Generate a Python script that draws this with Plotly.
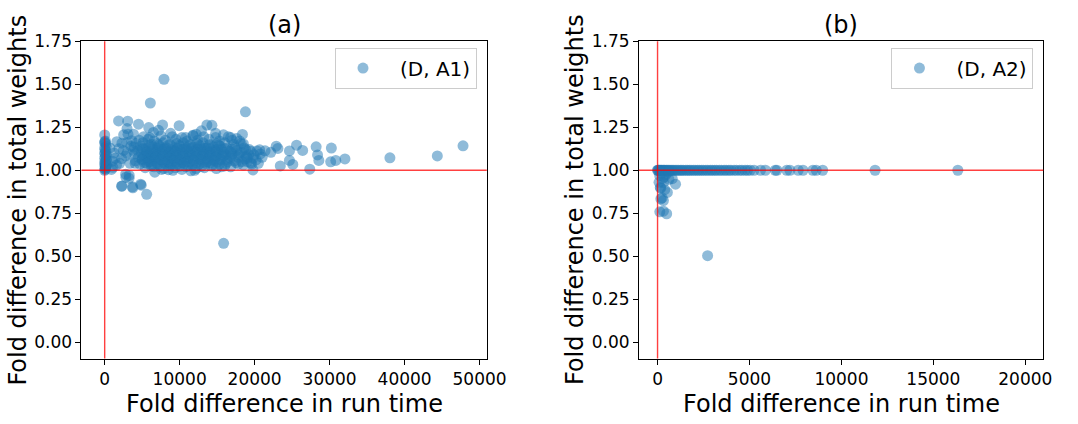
import plotly.graph_objects as go

# ---------------- Panel (a): (D, A1) ----------------
a_zero_col = [(0, 1.00), (50, 1.01), (100, 1.02), (0, 1.03), (150, 1.04), (50, 1.05), (200, 1.06),
              (0, 1.07), (100, 1.08), (250, 1.09), (0, 1.10), (150, 1.11), (50, 1.12), (200, 1.14),
              (0, 1.16), (100, 1.17), (0, 1.205), (80, 1.005), (120, 1.015), (30, 1.045), (180, 1.025),
              (60, 1.095), (300, 1.03), (250, 1.06), (20, 1.165), (150, 1.155), (0, 1.13), (700, 1.13),
              (1090, 1.017)]
a_left = [(1850, 1.287), (3070, 1.285), (4510, 1.268), (2980, 1.242), (3110, 1.210), (2530, 1.206),
          (1620, 1.166), (2300, 1.157), (2980, 1.161), (3840, 1.210), (1040, 1.053), (1260, 1.100),
          (900, 1.005), (2260, 1.068), (2800, 1.083), (3380, 1.040), (1900, 1.125), (3840, 1.115),
          (2500, 1.115), (1580, 1.030), (2800, 0.977), (3250, 0.953), (2260, 0.907), (3750, 0.898),
          (4870, 0.913), (5600, 0.860), (6680, 0.989), (4060, 1.040), (3600, 1.172), (2830, 0.960),
          (3270, 0.970), (4790, 0.919), (3700, 0.904), (2300, 0.908), (3500, 1.140), (2000, 1.040),
          (3000, 1.100), (1400, 1.070)]
a_cluster_hi = [(5200, 1.195), (6000, 1.19), (7500, 1.20), (9000, 1.195), (10300, 1.19), (11800, 1.20),
                (13200, 1.195), (14800, 1.19), (16500, 1.195),
                (4600, 1.175), (5800, 1.18), (6600, 1.17), (8100, 1.175), (9500, 1.18), (11000, 1.17),
                (12400, 1.175), (13900, 1.18), (15300, 1.17), (17000, 1.175), (18000, 1.17),
                (4200, 1.155), (5100, 1.16), (6200, 1.15), (7000, 1.155), (7800, 1.16), (8700, 1.15),
                (9600, 1.155), (10500, 1.16), (11400, 1.15), (12300, 1.155), (13100, 1.16), (14000, 1.15),
                (15000, 1.155), (16000, 1.16), (17200, 1.15), (18200, 1.155)]
a_cluster_mid = [(3900, 1.135), (4800, 1.14), (5500, 1.13), (6400, 1.135), (7300, 1.14), (8200, 1.13),
                 (9100, 1.135), (10000, 1.14), (10900, 1.13), (11800, 1.135), (12700, 1.14), (13600, 1.13),
                 (14500, 1.135), (15400, 1.14), (16300, 1.13), (17400, 1.135), (18600, 1.13),
                 (4400, 1.115), (5300, 1.12), (6100, 1.11), (6900, 1.115), (7600, 1.12), (8500, 1.11),
                 (9300, 1.115), (10200, 1.12), (11100, 1.11), (12000, 1.115), (12900, 1.12), (13800, 1.11),
                 (14700, 1.115), (15600, 1.12), (16600, 1.11), (17600, 1.115), (18800, 1.12), (19500, 1.11),
                 (4000, 1.095), (4900, 1.10), (5700, 1.09), (6500, 1.095), (7400, 1.10), (8300, 1.09),
                 (9000, 1.095), (9800, 1.10), (10700, 1.09), (11500, 1.095), (12500, 1.10), (13400, 1.09),
                 (14200, 1.095), (15200, 1.10), (16100, 1.09), (17000, 1.095), (18000, 1.10), (19200, 1.09)]
a_cluster_core = [(5100, 1.125), (6300, 1.122), (7100, 1.128), (8000, 1.124), (8900, 1.121), (9700, 1.127),
                  (10600, 1.123), (11600, 1.126), (12400, 1.122), (13300, 1.128), (14100, 1.124),
                  (15000, 1.121), (16000, 1.125), (17000, 1.122), (18200, 1.105),
                  (5400, 1.085), (6200, 1.082), (7000, 1.088), (7900, 1.084), (8800, 1.081), (9600, 1.087),
                  (10500, 1.083), (11400, 1.086), (12300, 1.082), (13200, 1.088), (14000, 1.084),
                  (14900, 1.081), (15900, 1.085), (16900, 1.082), (17900, 1.088), (18700, 1.065),
                  (5000, 1.065), (5800, 1.062), (6600, 1.068), (7300, 1.064), (8200, 1.061), (9000, 1.067),
                  (9900, 1.063), (10800, 1.066), (11800, 1.062), (12700, 1.068), (13600, 1.064),
                  (14500, 1.061), (15400, 1.065), (16300, 1.062), (17500, 1.045), (18300, 1.05),
                  (5300, 1.045), (6100, 1.048), (6900, 1.044), (7800, 1.047), (8600, 1.043), (9500, 1.046),
                  (10300, 1.044), (11300, 1.047), (12200, 1.043), (13100, 1.046), (14100, 1.044),
                  (15000, 1.047), (16000, 1.025)]
a_cluster_extra = [(5600, 1.105), (6800, 1.102), (7700, 1.107), (8600, 1.103), (9400, 1.106), (10400, 1.102),
                   (11300, 1.107), (12200, 1.103), (13100, 1.106), (14000, 1.102), (14900, 1.107),
                   (15800, 1.103), (16800, 1.106), (5900, 1.145), (7200, 1.148), (8400, 1.143),
                   (9900, 1.146), (11200, 1.142), (12600, 1.147), (13900, 1.144), (15200, 1.146),
                   (6200, 1.025), (7400, 1.022), (8700, 1.026), (10000, 1.023), (11100, 1.025),
                   (12900, 1.022), (14200, 1.024), (15600, 1.021), (17800, 1.035)]
a_cluster_lo = [(4500, 1.075), (5200, 1.08), (6000, 1.07), (6800, 1.075), (7700, 1.08), (8600, 1.07),
                (9500, 1.075), (10400, 1.08), (11200, 1.07), (12100, 1.075), (13000, 1.08), (13900, 1.07),
                (14800, 1.075), (15700, 1.08), (16700, 1.07), (17800, 1.075), (18900, 1.08), (19800, 1.07),
                (4100, 1.055), (5000, 1.06), (5900, 1.05), (6700, 1.055), (7500, 1.06), (8400, 1.05),
                (9200, 1.055), (10100, 1.06), (11000, 1.05), (11900, 1.055), (12800, 1.06), (13700, 1.05),
                (14600, 1.055), (15500, 1.06), (16400, 1.05), (17300, 1.055), (19000, 1.05),
                (4700, 1.035), (5600, 1.04), (6300, 1.03), (7100, 1.035), (8000, 1.04), (8900, 1.03),
                (9700, 1.035), (10600, 1.04), (11700, 1.03), (12600, 1.035), (13500, 1.04), (14400, 1.03),
                (15300, 1.035), (16200, 1.04), (18500, 1.03), (19600, 1.035),
                (5400, 1.015), (6600, 1.02), (7900, 1.01), (9400, 1.015), (10800, 1.02), (12200, 1.01),
                (13300, 1.015), (14900, 1.01), (16800, 1.02),
                (8500, 1.003), (9100, 1.0), (11500, 0.997), (12000, 1.0), (7600, 1.005), (10300, 1.005)]
a_upper = [(7720, 1.263), (9930, 1.259), (13630, 1.263), (14300, 1.261), (12900, 1.229), (11780, 1.204),
           (15840, 1.206), (18370, 1.208), (17600, 1.185), (18500, 1.153), (7180, 1.232), (5870, 1.248),
           (6500, 1.22), (8800, 1.215), (10800, 1.19), (12200, 1.21), (14800, 1.215), (16800, 1.19)]
a_tail = [(19770, 1.002), (19490, 1.043), (20310, 1.112), (20670, 1.119), (20760, 1.095), (21390, 1.113),
          (22160, 1.104), (22880, 1.140), (23100, 1.127), (23420, 1.025), (24640, 1.112), (24640, 1.057),
          (25090, 1.034), (25590, 1.146), (26400, 1.115), (27350, 1.006), (28200, 1.136), (28390, 1.089),
          (28560, 1.057), (30230, 1.129), (30140, 1.049), (30820, 1.057), (32040, 1.066), (38040, 1.072),
          (44360, 1.083), (47790, 1.142), (20200, 1.06), (21000, 1.075), (19900, 1.09), (20500, 1.04),
          (19300, 1.12), (19000, 1.07)]
a_outliers = [(7910, 1.529), (6090, 1.391), (18770, 1.340), (15860, 0.575)]

# ---------------- Panel (b): (D, A2) ----------------
b_row_x = [0, 20, 50, 80, 120, 160, 210, 250, 310, 350, 400, 470, 520, 590, 650, 730, 800, 870, 960,
           1050, 1130, 1240, 1320, 1410, 1530, 1620, 1730, 1820, 1950, 2040, 2170, 2260, 2390, 2490,
           2630, 2730, 2870, 2970, 3110, 3210, 3360, 3470, 3620, 3730, 3880, 3990, 4160, 4290, 4460,
           4590, 4760, 4890, 5040, 5250, 5600, 5870, 6400, 6490, 7030, 7200, 7650, 7910, 8450, 8630,
           8980, 11830, 16330]
b_row_y = [1.0] * len(b_row_x)
b_low = [(178, 0.896), (390, 0.887), (534, 0.871), (267, 0.951), (623, 0.947), (800, 0.951),
         (979, 0.919), (178, 0.834), (320, 0.824), (123, 0.758), (320, 0.762), (496, 0.747),
         (2722, 0.503), (80, 0.93), (120, 0.97), (350, 0.96), (200, 0.985), (450, 0.975),
         (600, 0.99), (250, 0.84), (320, 0.928), (150, 0.90)]

a_points = (a_zero_col + a_left + a_cluster_hi + a_cluster_mid + a_cluster_core + a_cluster_extra
            + a_cluster_lo + a_upper + a_tail + a_outliers)
xa = [p[0] for p in a_points]
ya = [p[1] for p in a_points]
xb = b_row_x + [p[0] for p in b_low]
yb = b_row_y + [p[1] for p in b_low]

W, H = 1078, 424
FONT = "DejaVu Sans"
BLUE = "#1f77b4"

fig = go.Figure()
marker = dict(size=11, color=BLUE, opacity=0.5, line=dict(width=0))
fig.add_trace(go.Scatter(x=xa, y=ya, mode="markers", marker=marker, name="\u2002(D, A1)",
                         xaxis="x", yaxis="y", legend="legend"))
fig.add_trace(go.Scatter(x=xb, y=yb, mode="markers", marker=marker, name="\u2002(D, A2)",
                         xaxis="x2", yaxis="y2", legend="legend2"))

def px_x(p):
    return p / W

def px_y(p):
    return 1 - p / H

axis_common = dict(showline=True, mirror=True, linecolor="black", linewidth=1, ticks="outside",
                   ticklen=5, tickwidth=1, tickcolor="black", showgrid=False, zeroline=False,
                   tickfont=dict(family=FONT, size=17, color="black"))
ydom = [px_y(357), px_y(32)]
yticks = [0, 0.25, 0.5, 0.75, 1.0, 1.25, 1.5, 1.75]
ytext = ["0.00", "0.25", "0.50", "0.75", "1.00", "1.25", "1.50", "1.75"]
fig.update_layout(
    width=W, height=H, margin=dict(l=0, r=0, t=0, b=0),
    paper_bgcolor="white", plot_bgcolor="white",
    font=dict(family=FONT, color="black"),
    xaxis=dict(domain=[px_x(83), px_x(496)], range=[-3097, 50960], tickmode="array",
               tickvals=[0, 10000, 20000, 30000, 40000, 50000],
               ticktext=["0", "10000", "20000", "30000", "40000", "50000"], anchor="y", **axis_common),
    yaxis=dict(domain=ydom, range=[-0.095, 1.75], tickmode="array", tickvals=yticks, ticktext=ytext,
               anchor="x", **axis_common),
    xaxis2=dict(domain=[px_x(651), px_x(1063)], range=[-1013, 20977], tickmode="array",
                tickvals=[0, 5000, 10000, 15000, 20000],
                ticktext=["0", "5000", "10000", "15000", "20000"], anchor="y2", **axis_common),
    yaxis2=dict(domain=ydom, range=[-0.095, 1.75], tickmode="array", tickvals=yticks, ticktext=ytext,
                anchor="x2", **axis_common),
    legend=dict(x=px_x(486), xanchor="right", y=px_y(59.5), yanchor="middle", bordercolor="#cccccc",
                borderwidth=1, bgcolor="rgba(255,255,255,0.8)", itemwidth=44,
                font=dict(family=FONT, size=20, color="black")),
    legend2=dict(x=px_x(1053), xanchor="right", y=px_y(59.5), yanchor="middle", bordercolor="#cccccc",
                 borderwidth=1, bgcolor="rgba(255,255,255,0.8)", itemwidth=44,
                 font=dict(family=FONT, size=20, color="black")),
    showlegend=True,
)

red = dict(color="rgba(255,0,0,0.75)", width=1.4)
for xr, yr in (("x", "y"), ("x2", "y2")):
    fig.add_shape(type="line", xref=xr, yref=yr + " domain", x0=0, x1=0, y0=0, y1=1, line=red, layer="above")
    fig.add_shape(type="line", xref=xr + " domain", yref=yr, x0=0, x1=1, y0=1, y1=1, line=red, layer="above")

ann = []
for cx, title in ((289.5, "(a)"), (857, "(b)")):
    ann.append(dict(text=title, x=px_x(cx), y=px_y(15), xref="paper", yref="paper", showarrow=False,
                    xanchor="center", yanchor="middle", font=dict(family=FONT, size=24)))
    ann.append(dict(text="Fold difference in run time", x=px_x(cx), y=px_y(404), xref="paper",
                    yref="paper", showarrow=False, xanchor="center", yanchor="middle",
                    font=dict(family=FONT, size=24)))
for lx in (18, 586):
    ann.append(dict(text="Fold difference in total weights", x=px_x(lx), y=px_y(194.5), xref="paper",
                    yref="paper", showarrow=False, textangle=-90, xanchor="center", yanchor="middle",
                    font=dict(family=FONT, size=24)))
fig.update_layout(annotations=ann)

fig.write_html("out.html")
